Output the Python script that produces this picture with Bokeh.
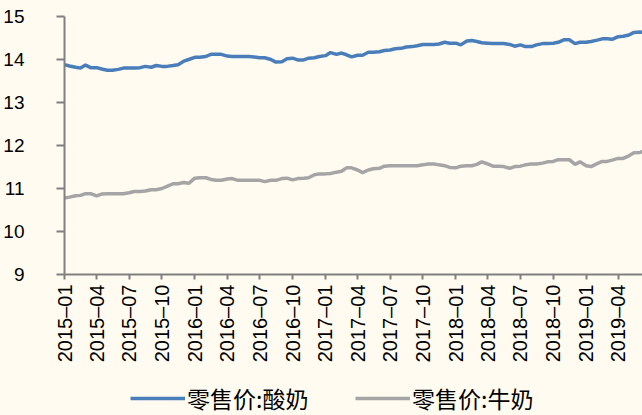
import pandas as pd
from bokeh.plotting import figure
from bokeh.layouts import column
from bokeh.models import (ColumnDataSource, Range1d, MonthsTicker, DatetimeTickFormatter,
                          FixedTicker, Legend, LegendItem)
from bokeh.embed import file_html
from bokeh.resources import INLINE

# ---- data (semi-monthly readings) ----
dates = pd.date_range("2015-01-01", periods=108, freq="SMS")
yogurt = [13.88, 13.85, 13.82, 13.80, 13.87, 13.81, 13.81, 13.78, 13.75, 13.75,
          13.77, 13.80, 13.80, 13.80, 13.81, 13.84, 13.82, 13.86, 13.84, 13.84,
          13.86, 13.88, 13.96, 14.00, 14.05, 14.05, 14.07, 14.12, 14.12, 14.12,
          14.08, 14.07, 14.07, 14.07, 14.07, 14.06, 14.04, 14.04, 14.00, 13.94,
          13.95, 14.02, 14.03, 13.99, 13.99, 14.03, 14.04, 14.07, 14.09, 14.16,
          14.12, 14.15, 14.11, 14.06, 14.10, 14.10, 14.17, 14.17, 14.18, 14.21,
          14.22, 14.25, 14.26, 14.29, 14.30, 14.32, 14.35, 14.35, 14.35, 14.36,
          14.40, 14.38, 14.38, 14.34, 14.43, 14.44, 14.42, 14.39, 14.38, 14.37,
          14.37, 14.37, 14.35, 14.31, 14.34, 14.30, 14.30, 14.34, 14.37, 14.37,
          14.38, 14.40, 14.46, 14.46, 14.37, 14.40, 14.40, 14.42, 14.45, 14.48,
          14.48, 14.47, 14.53, 14.54, 14.57, 14.63, 14.64, 14.62]
milk = [10.78, 10.80, 10.83, 10.84, 10.88, 10.88, 10.83, 10.87, 10.88, 10.88,
        10.88, 10.88, 10.90, 10.93, 10.93, 10.94, 10.97, 10.97, 11.00, 11.05,
        11.11, 11.11, 11.14, 11.12, 11.24, 11.25, 11.25, 11.21, 11.19, 11.19,
        11.22, 11.23, 11.19, 11.19, 11.19, 11.19, 11.19, 11.16, 11.19, 11.19,
        11.23, 11.24, 11.20, 11.23, 11.24, 11.25, 11.32, 11.34, 11.34, 11.35,
        11.38, 11.40, 11.48, 11.48, 11.43, 11.37, 11.43, 11.46, 11.47, 11.52,
        11.53, 11.53, 11.53, 11.53, 11.53, 11.53, 11.55, 11.57, 11.57, 11.55,
        11.53, 11.49, 11.48, 11.52, 11.53, 11.53, 11.56, 11.62, 11.57, 11.52,
        11.52, 11.51, 11.47, 11.51, 11.52, 11.55, 11.57, 11.57, 11.59, 11.62,
        11.63, 11.67, 11.67, 11.67, 11.56, 11.62, 11.53, 11.51, 11.58, 11.63,
        11.63, 11.66, 11.70, 11.70, 11.76, 11.83, 11.84, 11.88]
series_names = ["零售价:酸奶", "零售价:牛奶"]
y_ticks = [9, 10, 11, 12, 13, 14, 15]
x_tick_months = [0, 3, 6, 9]   # Jan, Apr, Jul, Oct (0-based)

BG = "#FFFBF0"
AXIS = "#808080"
BLUE = "#4A7EBB"
GRAY = "#A5A5A5"

src = ColumnDataSource(dict(date=dates, yogurt=yogurt, milk=milk))

p = figure(width=642, height=381, output_backend="svg", toolbar_location=None,
           x_axis_type="datetime",
           x_range=Range1d(pd.Timestamp("2015-01-01"), pd.Timestamp("2019-06-08")),
           y_range=Range1d(9, 15),
           min_border_left=62, min_border_right=0, min_border_top=16, min_border_bottom=107,
           background_fill_color=BG, border_fill_color=BG, outline_line_color=None)
p.grid.visible = False

p.line("date", "yogurt", source=src, line_color=BLUE, line_width=3.5)
p.line("date", "milk", source=src, line_color=GRAY, line_width=3.5)

# y axis
p.yaxis.ticker = FixedTicker(ticks=y_ticks)
p.yaxis.minor_tick_line_color = None
p.yaxis.axis_line_color = AXIS
p.yaxis.axis_line_width = 2
p.yaxis.major_tick_line_color = AXIS
p.yaxis.major_tick_line_width = 2
p.yaxis.major_tick_out = 8
p.yaxis.major_tick_in = 0
p.yaxis.major_label_standoff = 32
p.yaxis.major_label_text_font = "Liberation Sans"
p.yaxis.major_label_text_font_size = "19px"
p.yaxis.major_label_text_color = "#000000"

# x axis
p.xaxis.ticker = MonthsTicker(months=x_tick_months)
p.xaxis.formatter = DatetimeTickFormatter(months="%Y–%m", days="%Y–%m", years="%Y–%m")
p.xaxis.major_label_orientation = 1.5708
p.xaxis.minor_tick_line_color = None
p.xaxis.axis_line_color = AXIS
p.xaxis.axis_line_width = 2
p.xaxis.major_tick_line_color = AXIS
p.xaxis.major_tick_line_width = 2
p.xaxis.major_tick_out = 5
p.xaxis.major_tick_in = 0
p.xaxis.major_label_standoff = 5
p.xaxis.major_label_text_font = "Liberation Sans"
p.xaxis.major_label_text_font_size = "20px"
p.xaxis.major_label_text_color = "#000000"

# legend strip (separate small figure under the chart; its lines fall outside its ranges)
lg = figure(width=642, height=34, output_backend="svg", toolbar_location=None,
            x_axis_location=None, y_axis_location=None,
            x_range=Range1d(0, 1), y_range=Range1d(0, 1),
            min_border_left=62, min_border_right=0, min_border_top=0, min_border_bottom=0,
            background_fill_color=BG, border_fill_color=BG, outline_line_color=None)
lg.grid.visible = False
k1 = lg.line("date", "yogurt", source=src, line_color=BLUE, line_width=3.5)
k2 = lg.line("date", "milk", source=src, line_color=GRAY, line_width=3.5)
legend = Legend(items=[LegendItem(label=series_names[0], renderers=[k1]),
                       LegendItem(label=series_names[1], renderers=[k2])],
                orientation="horizontal", location=(66, 0),
                background_fill_alpha=0, border_line_color=None,
                glyph_width=55, glyph_height=24, label_standoff=2, spacing=37,
                label_width=131, padding=0, margin=0,
                label_text_font="Noto Sans CJK SC", label_text_font_size="23px",
                label_text_color="#000000")
lg.add_layout(legend, "center")

layout = column(p, lg, spacing=0)
html = file_html(layout, INLINE)
html = html.replace("<head>", "<head><style>html,body{background:%s;}</style>" % BG, 1)
open("out.html", "w").write(html)
